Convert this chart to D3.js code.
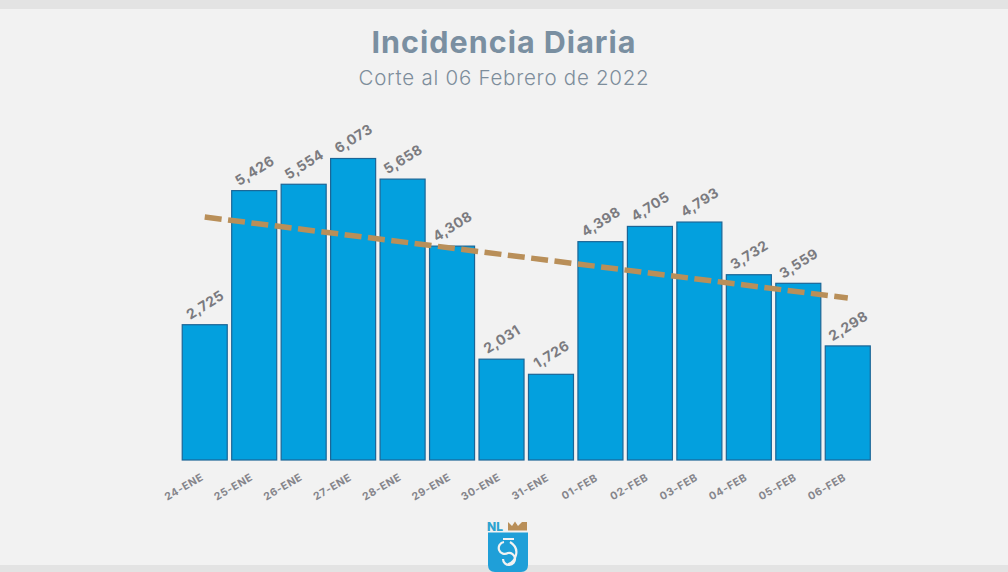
<!DOCTYPE html>
<html><head><meta charset="utf-8">
<script src="https://cdn.jsdelivr.net/npm/d3@7"></script>
<style>html,body{margin:0;padding:0;background:#f2f2f2}svg{display:block}text{font-family:Inter,"Open Sans",sans-serif}</style>
</head><body><div id="chart"></div>
<script>
const categories=["24-ENE","25-ENE","26-ENE","27-ENE","28-ENE","29-ENE","30-ENE","31-ENE","01-FEB","02-FEB","03-FEB","04-FEB","05-FEB","06-FEB"];
const values=[2725,5426,5554,6073,5658,4308,2031,1726,4398,4705,4793,3732,3559,2298];
const trendCategories=["24-ENE","06-FEB"];
const trendValues=[4894,3263];
const titleText="Incidencia Diaria";
const subtitleText="Corte al 06 Febrero de 2022";

const W=1008,H=572;
const svg=d3.select("#chart").append("svg").attr("width",W).attr("height",H);
svg.append("rect").attr("width",W).attr("height",H).attr("fill","#f2f2f2");
svg.append("rect").attr("width",W).attr("height",9).attr("fill","#e3e3e3");
svg.append("rect").attr("y",565).attr("width",W).attr("height",7).attr("fill","#e3e3e3");

svg.append("text").attr("x",504).attr("y",53).attr("text-anchor","middle").attr("font-size",30.5).attr("font-weight",700).attr("letter-spacing",1).attr("fill","#7a8fa1").text(titleText);
svg.append("text").attr("x",504).attr("y",85).attr("text-anchor","middle").attr("font-size",20.5).attr("font-weight",300).attr("letter-spacing",0.75).attr("fill","#7d8d9b").text(subtitleText);

const x=d3.scaleBand().domain(categories).range([180,872.5]).paddingInner(0.09).paddingOuter(0.045);
const y=d3.scaleLinear().domain([0,6073]).range([460,158.5]);

const g=svg.append("g");
g.selectAll("rect.bar").data(values).join("rect").attr("class","bar")
 .attr("x",(d,i)=>x(categories[i])).attr("y",d=>y(d))
 .attr("width",x.bandwidth()).attr("height",d=>y(0)-y(d))
 .attr("fill","#03a0de").attr("stroke","#1b6596").attr("stroke-width",1.2);

g.selectAll("text.val").data(values).join("text").attr("class","val")
 .attr("transform",(d,i)=>`translate(${x(categories[i])+x.bandwidth()/2+1},${y(d)-19}) rotate(-32)`)
 .attr("text-anchor","middle").attr("font-size",14).attr("font-weight",700).attr("letter-spacing",0.5).attr("fill","#7b7b80")
 .attr("dominant-baseline","middle")
 .text(d=>d3.format(",")(d));

const axis=svg.append("g").attr("transform","translate(0,460)")
 .call(d3.axisBottom(x).tickSize(0).tickPadding(0));
axis.select(".domain").remove();
axis.selectAll("text").attr("transform","translate(-19,30) rotate(-30)")
 .attr("dy",0).attr("y",0).attr("text-anchor","middle").attr("font-size",10.5).attr("font-weight",700).attr("letter-spacing",0.6).attr("fill","#85858b").attr("font-family","Inter,sans-serif");

const line=d3.line().x((d,i)=>x(trendCategories[i])+x.bandwidth()/2).y(d=>y(d));
svg.append("path").datum(trendValues).attr("d",line).attr("fill","none")
 .attr("stroke","#b98f59").attr("stroke-width",5.5).attr("stroke-dasharray","17 6.5");

// logo
const logo=svg.append("g").attr("transform","translate(488,521)");
logo.append("text").attr("x",-1).attr("y",10).attr("font-size",12).attr("font-weight",800).attr("fill","#2ea3cf").text("NL");
logo.append("path").attr("d","M20 1 L24 5 L27 0.5 L30 5 L34 1 L39 1 L39 9.5 L20 9.5 Z").attr("fill","#b98f59");
logo.append("path").attr("d","M0 11.5 H40 V44 Q40 51 33 51 H7 Q0 51 0 44 Z").attr("fill","#1f9fd8");
logo.append("path").attr("d","M16 21 A6 6 0 1 0 20 32 A6 6 0 1 1 15 38 M22 21 Q30 26 28 34 Q26 42 20 43 M15 18 H26").attr("fill","none").attr("stroke","#f2f2f2").attr("stroke-width",2.2);
</script></body></html>
